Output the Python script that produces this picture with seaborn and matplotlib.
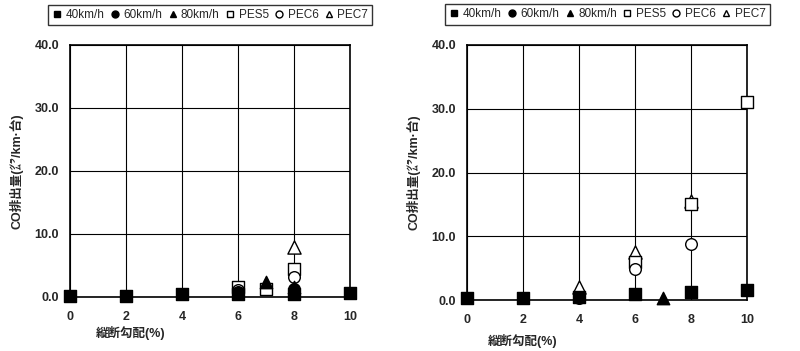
import matplotlib
matplotlib.use("Agg")
import matplotlib.pyplot as plt
import seaborn as sns
import pandas as pd
from matplotlib.lines import Line2D

sns.set_style("white")
plt.rcParams['font.family'] = ['Liberation Sans', 'Noto Sans CJK JP', 'DejaVu Sans']

series_names = ["40km/h", "60km/h", "80km/h", "PES5", "PEC6", "PEC7"]

# Left panel data (grade %, CO emission)
left_40_x = [0, 2, 4, 6, 8, 10]
left_40_y = [0.2, 0.2, 0.4, 0.5, 0.5, 0.6]
left_60_x = [6, 8]
left_60_y = [0.8, 1.2]
left_80_x = [7, 8]
left_80_y = [2.3, 1.6]
left_pes5_x = [6, 7, 8]
left_pes5_y = [1.5, 1.3, 4.5]
left_pec6_x = [6, 8]
left_pec6_y = [1.1, 3.2]
left_pec7_x = [8]
left_pec7_y = [7.9]

# Right panel data
right_40_x = [0, 2, 4, 6, 8, 10]
right_40_y = [0.3, 0.3, 0.5, 1.0, 1.3, 1.6]
right_60_x = [4]
right_60_y = [0.4]
right_80_x = [7]
right_80_y = [0.3]
right_pes5_x = [6, 8, 10]
right_pes5_y = [6.0, 15.0, 31.0]
right_pec6_x = [6, 8]
right_pec6_y = [4.8, 8.8]
right_pec7_x = [4, 6, 8]
right_pec7_y = [2.0, 7.5, 15.5]

x_ticks = [0, 2, 4, 6, 8, 10]
y_ticks = [0, 10, 20, 30, 40]
y_tick_labels = ["0.0", "10.0", "20.0", "30.0", "40.0"]
x_label = "縦断勾配(%)"
y_label = "CO排出量(㌘/km·台)"

styles = {
    "40km/h": dict(marker="s", fc="black", s=80),
    "60km/h": dict(marker="o", fc="black", s=70),
    "80km/h": dict(marker="^", fc="black", s=80),
    "PES5": dict(marker="s", fc="white", s=75),
    "PEC6": dict(marker="o", fc="white", s=70),
    "PEC7": dict(marker="^", fc="white", s=90),
}


def make_df(parts):
    rows = []
    for name, xs, ys in parts:
        for xv, yv in zip(xs, ys):
            rows.append({"grade": xv, "co": yv, "series": name})
    return pd.DataFrame(rows)


left_df = make_df([
    ("40km/h", left_40_x, left_40_y), ("60km/h", left_60_x, left_60_y),
    ("80km/h", left_80_x, left_80_y), ("PES5", left_pes5_x, left_pes5_y),
    ("PEC6", left_pec6_x, left_pec6_y), ("PEC7", left_pec7_x, left_pec7_y)])
right_df = make_df([
    ("40km/h", right_40_x, right_40_y), ("60km/h", right_60_x, right_60_y),
    ("80km/h", right_80_x, right_80_y), ("PES5", right_pes5_x, right_pes5_y),
    ("PEC6", right_pec6_x, right_pec6_y), ("PEC7", right_pec7_x, right_pec7_y)])

fig = plt.figure(figsize=(8, 3.51), dpi=100)
ax1 = fig.add_axes([0.0875, 0.154, 0.35, 0.718])
ax2 = fig.add_axes([0.584, 0.145, 0.35, 0.727])

order_draw = ["PEC7", "PES5", "PEC6", "80km/h", "60km/h", "40km/h"]

for ax, df, lx, ly in [(ax1, left_df, 0.12, 0.05), (ax2, right_df, 0.61, 0.028)]:
    for i, name in enumerate(order_draw):
        sub = df[df["series"] == name]
        if sub.empty:
            continue
        st = styles[name]
        sns.scatterplot(data=sub, x="grade", y="co", ax=ax, marker=st["marker"],
                        s=st["s"], facecolor=st["fc"], edgecolor="black",
                        linewidth=1.0, clip_on=False, zorder=3 + i, legend=False)
    ax.set_xlim(0, 10)
    ax.set_ylim(0, 40)
    ax.set_xticks(x_ticks)
    ax.set_yticks(y_ticks)
    ax.set_yticklabels(y_tick_labels)
    ax.grid(True, color="black", linewidth=0.8)
    for sp in ax.spines.values():
        sp.set_visible(True)
        sp.set_color("black")
        sp.set_linewidth(1.2)
    ax.tick_params(axis="y", length=0, labelsize=9, pad=8)
    ax.tick_params(axis="x", length=0, labelsize=9, pad=10)
    for lab in ax.get_xticklabels() + ax.get_yticklabels():
        lab.set_fontweight("bold")
    ax.set_xlabel("")
    ax.set_ylabel(y_label, fontsize=9, fontweight="bold", labelpad=8)
    fig.text(lx, ly, x_label, fontsize=9, fontweight="bold", ha="left", va="center")

    handles = []
    for name in series_names:
        st = styles[name]
        handles.append(Line2D([], [], linestyle="none", marker=st["marker"],
                              markerfacecolor=st["fc"], markeredgecolor="black",
                              markersize=5, label=name))
    leg = ax.legend(handles=handles, ncol=6, loc="lower center",
                    bbox_to_anchor=(0.5, 1.08), frameon=True, fancybox=False,
                    edgecolor="black", fontsize=8.5, handletextpad=0.25,
                    columnspacing=0.45, handlelength=0.9, borderpad=0.35,
                    borderaxespad=0)
    leg.get_frame().set_linewidth(1.0)

fig.savefig("out.png", dpi=100)
